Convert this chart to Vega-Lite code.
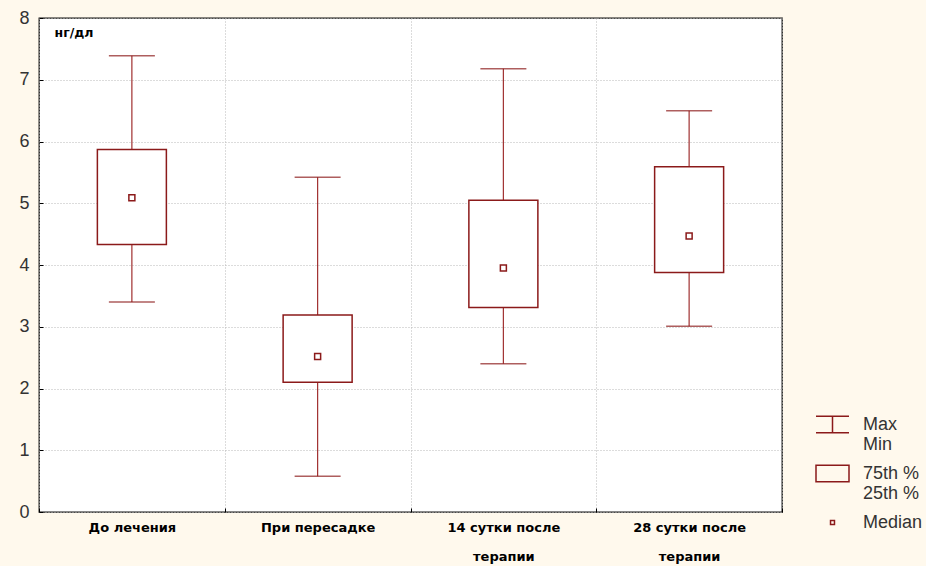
{
  "$schema": "https://vega.github.io/schema/vega-lite/v6.json",
  "width": 743,
  "height": 494,
  "autosize": {"type": "none"},
  "padding": {"left": 39, "top": 18, "right": 144, "bottom": 54},
  "background": "#fff9ed",
  "view": {"fill": "#ffffff", "stroke": "#111111", "strokeWidth": 1.3},
  "config": {
    "font": "Liberation Sans",
    "style": {"guide-label": {"lineHeight": 20}}
  },
  "datasets": {
    "boxes": [
      {"group": "До лечения", "min": 3.4, "q1": 4.33, "median": 5.09, "q3": 5.87, "max": 7.39},
      {"group": "При пересадке", "min": 0.58, "q1": 2.1, "median": 2.52, "q3": 3.19, "max": 5.42},
      {"group": "14 сутки после терапии", "min": 2.4, "q1": 3.31, "median": 3.95, "q3": 5.05, "max": 7.18},
      {"group": "28 сутки после терапии", "min": 3.01, "q1": 3.88, "median": 4.47, "q3": 5.59, "max": 6.5}
    ],
    "legend": [{"item": "Max|Min"}, {"item": "75th %|25th %"}, {"item": "Median"}]
  },
  "layer": [
    {
      "data": {"name": "boxes"},
      "mark": {"type": "rule", "color": "#a03030", "strokeWidth": 1.2},
      "encoding": {
        "x": {
          "field": "group", "type": "nominal", "sort": null,
          "scale": {"paddingInner": 0, "paddingOuter": 0},
          "axis": {
            "title": null, "labelAngle": 0, "labelFont": "DejaVu Sans", "labelFontWeight": "bold",
            "labelFontSize": 13, "labelColor": "#000000", "labelLineHeight": 29, "labelPadding": 13,
            "tickBand": "extent", "tickSize": -4, "tickColor": "#000000", "domain": false,
            "grid": true, "gridColor": "#b8b8b8", "gridDash": [1, 2],
            "labelExpr": "split(replace(datum.label, ' терапии', '|терапии'), '|')"
          }
        },
        "y": {
          "field": "min", "type": "quantitative",
          "scale": {"domain": [0, 8], "nice": false, "zero": true},
          "axis": {
            "title": "нг/дл", "titleAngle": 0, "titleX": 15, "titleY": 14, "titleAlign": "left",
            "titleBaseline": "middle", "titleFont": "DejaVu Sans", "titleFontWeight": "bold", "titleFontSize": 12.5, "titleColor": "#000000",
            "values": [0, 1, 2, 3, 4, 5, 6, 7, 8], "format": "d", "labelFontSize": 18, "labelColor": "#333333",
            "labelPadding": 14, "tickSize": -4, "tickColor": "#000000", "domain": false,
            "grid": true, "gridColor": "#b8b8b8", "gridDash": [1, 2]
          }
        },
        "y2": {"field": "max"}
      }
    },
    {
      "data": {"name": "boxes"},
      "mark": {"type": "tick", "orient": "horizontal", "size": 46, "thickness": 1.5, "color": "#8b1a1a"},
      "encoding": {
        "x": {"field": "group", "type": "nominal", "sort": null},
        "y": {"field": "max", "type": "quantitative"}
      }
    },
    {
      "data": {"name": "boxes"},
      "mark": {"type": "tick", "orient": "horizontal", "size": 46, "thickness": 1.5, "color": "#8b1a1a"},
      "encoding": {
        "x": {"field": "group", "type": "nominal", "sort": null},
        "y": {"field": "min", "type": "quantitative"}
      }
    },
    {
      "data": {"name": "boxes"},
      "mark": {"type": "bar", "size": 69, "fill": "white", "stroke": "#8b1a1a", "strokeWidth": 1.5},
      "encoding": {
        "x": {"field": "group", "type": "nominal", "sort": null},
        "y": {"field": "q1", "type": "quantitative"},
        "y2": {"field": "q3"}
      }
    },
    {
      "data": {"name": "boxes"},
      "mark": {"type": "point", "shape": "square", "size": 36, "filled": false, "color": "#8b1a1a", "strokeWidth": 1.5, "opacity": 1},
      "encoding": {
        "x": {"field": "group", "type": "nominal", "sort": null},
        "y": {"field": "median", "type": "quantitative"}
      }
    },
    {
      "data": {"name": "legend"},
      "mark": {"type": "point", "size": 0, "color": "#8b1a1a", "filled": false, "strokeWidth": 1.5},
      "encoding": {
        "shape": {
          "field": "item", "type": "nominal", "sort": null,
          "scale": {
            "domain": ["Max|Min", "75th %|25th %", "Median"],
            "range": ["M-1,-0.5H1M0,-0.5V0.5M-1,0.5H1", "M-1,-0.5H1V0.5H-1Z", "M-0.12,-0.12H0.12V0.12H-0.12Z"]
          },
          "legend": {
            "orient": "none", "legendX": 776, "legendY": 389, "title": null, "padding": 0,
            "symbolSize": 1089, "symbolStrokeWidth": 1.5, "symbolOpacity": 1,
            "symbolFillColor": "#ffffff", "symbolStrokeColor": "#8b1a1a",
            "labelFont": "Liberation Sans", "labelFontSize": 18, "labelColor": "#333333", "labelOffset": 13,
            "rowPadding": 2, "labelExpr": "split(datum.label, '|')", "labelLimit": 200
          }
        }
      }
    }
  ]
}
